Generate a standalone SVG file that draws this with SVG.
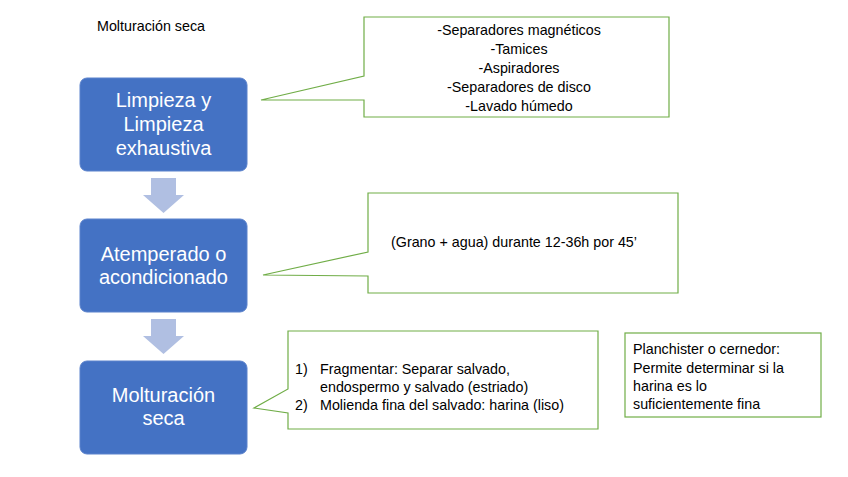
<svg xmlns="http://www.w3.org/2000/svg" width="848" height="477" viewBox="0 0 848 477">
<style>
.bg{fill:#ffffff}
.step{fill:#4472C4;stroke:#5B82CC;stroke-width:1}
.steptxt{font-family:"Liberation Sans",Arial,sans-serif;font-size:20px;fill:#ffffff;text-anchor:middle}
.arrow{fill:#B0BFE2}
.callout{fill:#ffffff;stroke:#70AD47;stroke-width:1.2}
.txt{font-family:"Liberation Sans",Arial,sans-serif;font-size:14.3px;fill:#000000}
.mid{text-anchor:middle}
</style>
<rect class="bg" x="0" y="0" width="848" height="477"/>
<text class="txt" x="97" y="31">Molturación seca</text>

<g id="connectors">
<polygon class="arrow" points="151,178 176,178 176,195 184,195 163.5,213 143,195 151,195"/>
<polygon class="arrow" points="151,319 176,319 176,336 184,336 163.5,354 143,336 151,336"/>
</g>

<g id="step1">
<rect class="step" x="80" y="78" width="167" height="93" rx="7"/>
<text class="steptxt" x="163.5" y="107">Limpieza y</text>
<text class="steptxt" x="163.5" y="131">Limpieza</text>
<text class="steptxt" x="163.5" y="155">exhaustiva</text>
</g>

<g id="step2">
<rect class="step" x="80" y="219" width="167" height="93" rx="7"/>
<text class="steptxt" x="163.5" y="261">Atemperado o</text>
<text class="steptxt" x="163.5" y="284">acondicionado</text>
</g>

<g id="step3">
<rect class="step" x="80" y="361" width="167" height="93" rx="7"/>
<text class="steptxt" x="163.5" y="402">Molturación</text>
<text class="steptxt" x="163.5" y="425">seca</text>
</g>

<g id="callout1">
<path class="callout" d="M364,17 H669 V117 H364 V100 L261,100 L364,76 Z"/>
<text class="txt mid" x="519" y="35">-Separadores magnéticos</text>
<text class="txt mid" x="519" y="54">-Tamices</text>
<text class="txt mid" x="519" y="73">-Aspiradores</text>
<text class="txt mid" x="519" y="92">-Separadores de disco</text>
<text class="txt mid" x="519" y="111">-Lavado húmedo</text>
</g>

<g id="callout2">
<path class="callout" d="M368,193 H678 V293 H368 V276 L263,275 L368,252 Z"/>
<text class="txt mid" x="514" y="247">(Grano + agua) durante 12-36h por 45’</text>
</g>

<g id="callout3">
<path class="callout" d="M288,331 H598 V429 H288 V413 L254,408 L288,389 Z"/>
<text class="txt" x="295" y="374">1)</text>
<text class="txt" x="320" y="374">Fragmentar: Separar salvado,</text>
<text class="txt" x="320" y="392">endospermo y salvado (estriado)</text>
<text class="txt" x="295" y="410">2)</text>
<text class="txt" x="320" y="410">Molienda fina del salvado: harina (liso)</text>
</g>

<g id="note">
<rect class="callout" x="625" y="333" width="196" height="84"/>
<text class="txt" x="633" y="354">Planchister o cernedor:</text>
<text class="txt" x="633" y="373">Permite determinar si la</text>
<text class="txt" x="633" y="391">harina es lo</text>
<text class="txt" x="633" y="409">suficientemente fina</text>
</g>
</svg>
